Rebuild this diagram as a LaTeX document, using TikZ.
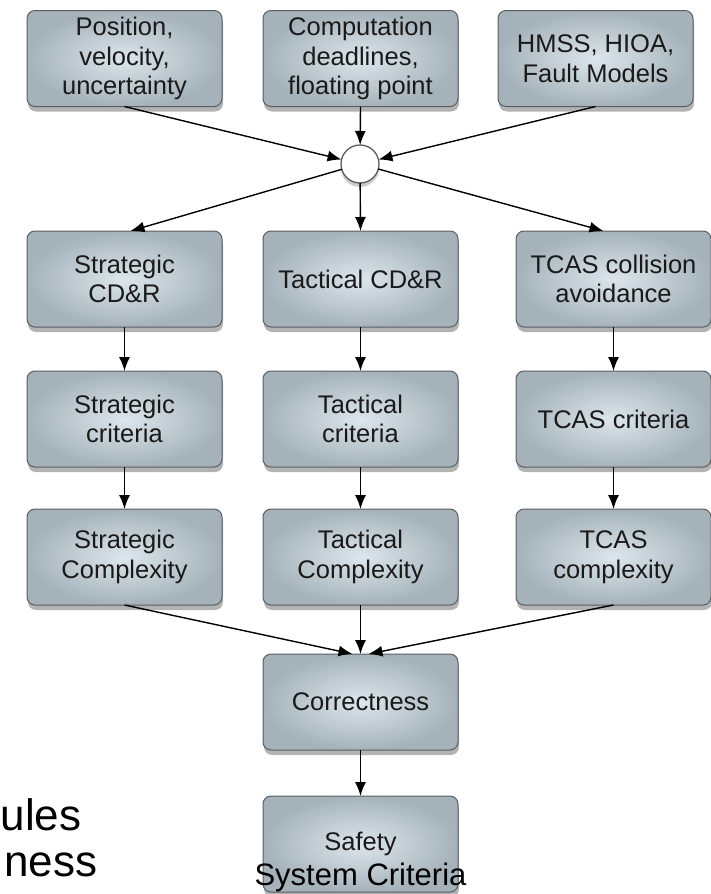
\documentclass[tikz,border=0pt]{standalone}
\usepackage{fontspec}
\setmainfont{Liberation Sans}
\usetikzlibrary{positioning,shadows,arrows.meta}

\definecolor{boxin}{HTML}{DCE6EC}
\definecolor{boxout}{HTML}{A6B2BA}
\definecolor{boxline}{HTML}{5A5E61}
\definecolor{boxtext}{HTML}{1A1A1A}

\tikzset{
  box/.style={draw=boxline, line width=1pt, rounded corners=8pt,
    shading=radial, inner color=boxin, outer color=boxout,
    minimum width=195pt, minimum height=96pt, inner sep=0pt, outer sep=0pt,
    align=center, text=boxtext,
    font=\fontsize{25.5}{29.5}\selectfont,
    drop shadow={opacity=0.6, shadow xshift=1pt, shadow yshift=-5pt}},
  hubnode/.style={circle, draw=boxline, line width=1.3pt, fill=white,
    minimum size=38pt, inner sep=0pt, outer sep=0pt,
    drop shadow={opacity=0.4, shadow xshift=0pt, shadow yshift=-4pt}},
  >={Latex[length=14pt,width=11pt]},
  every path/.style={line width=1.4pt}
}

\begin{document}
\begin{tikzpicture}[x=1pt,y=1pt]
\useasboundingbox (0,0) rectangle (710,-894);

% ======================================
% INPUTS
% ======================================
\node[box] (pos) at (124.5,-58.5) {Position,\\velocity,\\uncertainty};
\node[box, right=41pt of pos] (comp) {Computation\\deadlines,\\floating point};
\node[box, right=40pt of comp] (hmss) {HMSS, HIOA,\\Fault Models};

\node[hubnode] (hub) at (360,-164) {};
\draw [->] (pos.south) -- (hub);
\draw [->] (comp.south) -- (hub);
\draw [->] (hmss.south) -- (hub);

% ======================================
% CD&R LAYERS
% ======================================
\node[box] (stratcd) at (124.5,-279) {Strategic\\CD\&R};
\node[box, right=41pt of stratcd] (tactcd) {Tactical CD\&R};
\node[box, right=58pt of tactcd] (tcascd) {TCAS collision\\avoidance};
\draw [->] (hub) -- ([xshift=6pt]stratcd.north);
\draw [->] (hub) -- (tactcd.north);
\draw [->] (hub) -- ([xshift=-10pt]tcascd.north);

% ======================================
% CRITERIA
% ======================================
\node[box, below=44pt of stratcd] (stratcr) {Strategic\\criteria};
\node[box, below=44pt of tactcd] (tactcr) {Tactical\\criteria};
\node[box, below=44pt of tcascd] (tcascr) {TCAS criteria};
\draw [->] (stratcd) -- (stratcr);
\draw [->] (tactcd) -- (tactcr);
\draw [->] (tcascd) -- (tcascr);

% ======================================
% COMPLEXITY
% ======================================
\node[box, below=42pt of stratcr] (stratcx) {Strategic\\Complexity};
\node[box, below=42pt of tactcr] (tactcx) {Tactical\\Complexity};
\node[box, below=42pt of tcascr] (tcascx) {TCAS\\complexity};
\draw [->] (stratcr) -- (stratcx);
\draw [->] (tactcr) -- (tactcx);
\draw [->] (tcascr) -- (tcascx);

% ======================================
% CORRECTNESS AND SAFETY
% ======================================
\node[box, below=49pt of tactcx] (corr) {Correctness};
\draw [->] (stratcx.south) -- ([xshift=-8pt]corr.north);
\draw [->] (tactcx.south) -- (corr.north);
\draw [->] (tcascx.south) -- ([xshift=8pt]corr.north);

\node[box, below=46pt of corr] (safe) {Safety};
\draw [->] (corr) -- (safe);

\node[anchor=base, inner sep=0pt, font=\fontsize{31}{31}\selectfont] (syscrit) at (360.5,-885) {System Criteria};

% left over slide text
\node[anchor=base east, inner sep=0pt, font=\fontsize{44}{44}\selectfont] (rules) at (82,-830) {ules};
\node[anchor=base east, inner sep=0pt, font=\fontsize{44}{44}\selectfont] (ness) at (98,-876) {ness};

\end{tikzpicture}
\end{document}
